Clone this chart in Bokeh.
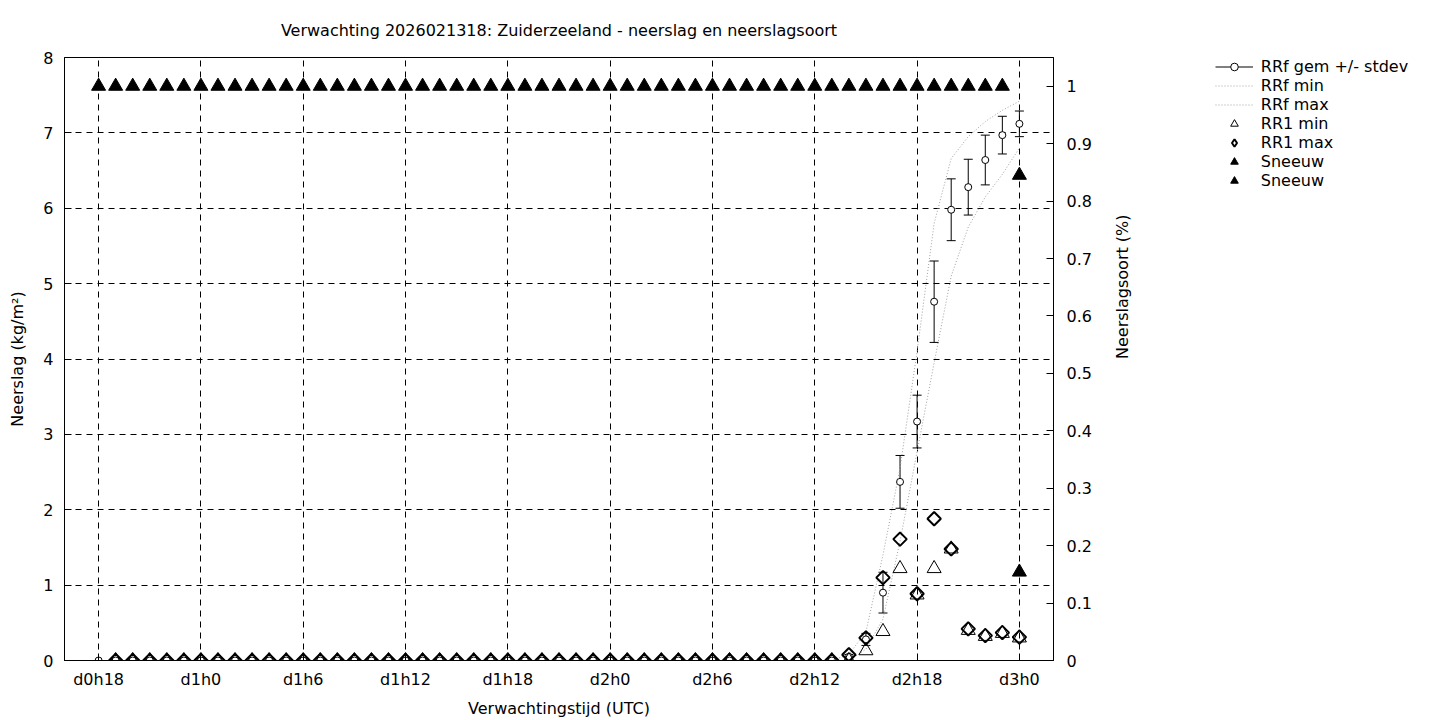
import numpy as np
from bokeh.plotting import figure
from bokeh.models import (Range1d, LinearAxis, FixedTicker, ColumnDataSource, Legend, LegendItem,
                          CustomJSTickFormatter)
from bokeh.embed import file_html
from bokeh.resources import INLINE

# ---------------- data ----------------
hours = list(range(18, 73))  # forecast hour (d0h18 .. d3h0)
rrf_mean = [0.0] * 44 + [0.05, 0.28, 0.90, 2.37, 3.17, 4.76, 5.98, 6.28, 6.64, 6.97, 7.12]
rrf_std = [0.0] * 44 + [0.03, 0.08, 0.27, 0.35, 0.35, 0.54, 0.41, 0.37, 0.33, 0.25, 0.17]
rrf_min = [0.0] * 44 + [0.00, 0.15, 0.55, 1.58, 2.77, 3.95, 5.10, 5.75, 6.15, 6.45, 6.80]
rrf_max = [0.0] * 44 + [0.08, 0.38, 1.40, 2.55, 4.10, 5.80, 6.66, 6.95, 7.15, 7.30, 7.42]

rr1_hours = list(range(19, 73))
rr1_min = [0.0] * 43 + [0.00, 0.13, 0.385, 1.22, 0.87, 1.22, 1.48, 0.40, 0.32, 0.36, 0.30]
rr1_max = [0.0] * 43 + [0.076, 0.30, 1.10, 1.61, 0.885, 1.88, 1.48, 0.42, 0.33, 0.37, 0.31]

sneeuw1_hours = list(range(18, 73))
sneeuw1 = [1.0] * 54 + [0.845]
sneeuw2_hours = [72]
sneeuw2 = [0.154]

x_ticks = [18, 24, 30, 36, 42, 48, 54, 60, 66, 72]
x_tick_labels = ["d0h18", "d1h0", "d1h6", "d1h12", "d1h18", "d2h0", "d2h6", "d2h12", "d2h18", "d3h0"]
y_ticks = [0, 1, 2, 3, 4, 5, 6, 7, 8]
y2_ticks = [0, 0.1, 0.2, 0.3, 0.4, 0.5, 0.6, 0.7, 0.8, 0.9, 1.0]

title = "Verwachting 2026021318: Zuiderzeeland - neerslag en neerslagsoort"

FONT = "DejaVu Sans"
FS = "16px"

# ---------------- figure ----------------
p = figure(frame_width=989, frame_height=603, x_range=Range1d(16, 74), y_range=Range1d(0, 8),
           output_backend="svg", toolbar_location=None,
           min_border_left=64, min_border_right=370, min_border_top=56, min_border_bottom=58,
           background_fill_color="white", border_fill_color="white")
p.extra_y_ranges = {"y2": Range1d(0, 1.05)}

p.title.text = title
p.title.text_font = FONT
p.title.text_font_size = FS
p.title.text_font_style = "normal"
p.title.text_color = "black"
p.title.align = "center"
p.title.standoff = 36

p.outline_line_color = "black"
p.outline_line_width = 1
p.outline_line_alpha = 1

# axes
xa = p.xaxis[0]
xa.ticker = FixedTicker(ticks=x_ticks)
xa.major_label_overrides = {t: l for t, l in zip(x_ticks, x_tick_labels)}
xa.axis_label = "Verwachtingstijd (UTC)"
xa.major_label_standoff = 9
xa.axis_label_standoff = 7

ya = p.yaxis[0]
ya.ticker = FixedTicker(ticks=y_ticks)
ya.axis_label = "Neerslag (kg/m²)"
ya.major_label_standoff = 11
ya.axis_label_standoff = 13

y2 = LinearAxis(y_range_name="y2", ticker=FixedTicker(ticks=y2_ticks),
                formatter=CustomJSTickFormatter(code="return String(Math.round(tick*10)/10)"),
                axis_label="Neerslagsoort (%)")
y2.major_label_standoff = 13
y2.axis_label_standoff = 28
y2.axis_label_orientation = np.pi / 2
p.add_layout(y2, "right")

for ax in [xa, ya, y2]:
    ax.major_tick_in = 7
    ax.major_tick_out = 0
    ax.minor_tick_line_color = None
    ax.major_tick_line_color = "black"
    ax.axis_line_color = "black"
    ax.major_label_text_font = FONT
    ax.major_label_text_font_size = FS
    ax.major_label_text_color = "black"
    ax.axis_label_text_font = FONT
    ax.axis_label_text_font_size = FS
    ax.axis_label_text_font_style = "normal"
    ax.axis_label_text_color = "black"

# grid
p.xgrid.ticker = FixedTicker(ticks=x_ticks)
p.ygrid.ticker = FixedTicker(ticks=y_ticks)
for g in [p.xgrid[0], p.ygrid[0]]:
    g.grid_line_color = "black"
    g.grid_line_dash = "6 5"
    g.grid_line_width = 1
    g.grid_line_alpha = 1

# ---------------- glyphs ----------------
mean = np.array(rrf_mean)
std = np.array(rrf_std)
src_f = ColumnDataSource(dict(x=hours, mean=mean, lo=mean - std, hi=mean + std,
                              fmin=rrf_min, fmax=rrf_max))

r_err = p.segment(x0="x", y0="lo", x1="x", y1="hi", source=src_f, line_color="black", line_width=1)
p.scatter(x="x", y="lo", source=src_f, marker="dash", size=9, line_color="black", line_width=1)
p.scatter(x="x", y="hi", source=src_f, marker="dash", size=9, line_color="black", line_width=1)
r_mean = p.scatter(x="x", y="mean", source=src_f, marker="circle", size=7,
                   line_color="black", line_width=1, fill_color="white")

r_min = p.line(x="x", y="fmin", source=src_f, line_color="#a0a0a0", line_width=1, line_dash="1 2")
r_max = p.line(x="x", y="fmax", source=src_f, line_color="#a0a0a0", line_width=1, line_dash="1 2")

src_r = ColumnDataSource(dict(x=rr1_hours, rmin=rr1_min, rmax=rr1_max))
r_rmin = p.scatter(x="x", y="rmin", source=src_r, marker="triangle", size=14,
                   line_color="black", line_width=1, fill_color=None)
r_rmax = p.scatter(x="x", y="rmax", source=src_r, marker="square", angle=np.pi / 4, size=9.5,
                   line_color="black", line_width=2, fill_color=None)
# legend key only (NaN point is never drawn) so that the legend shows a diamond shape
r_rmax_key = p.scatter(x=[np.nan], y=[np.nan], marker="diamond", line_color="black",
                       line_width=2, fill_color=None)

src_s1 = ColumnDataSource(dict(x=sneeuw1_hours, y=sneeuw1))
src_s2 = ColumnDataSource(dict(x=sneeuw2_hours, y=sneeuw2))
r_s1 = p.scatter(x="x", y="y", source=src_s1, y_range_name="y2", marker="triangle", size=14,
                 line_color="black", fill_color="black")
r_s2 = p.scatter(x="x", y="y", source=src_s2, y_range_name="y2", marker="triangle", size=14,
                 line_color="black", fill_color="black")

legend = Legend(items=[
    LegendItem(label="RRf gem +/- stdev", renderers=[r_err, r_mean]),
    LegendItem(label="RRf min", renderers=[r_min]),
    LegendItem(label="RRf max", renderers=[r_max]),
    LegendItem(label="RR1 min", renderers=[r_rmin]),
    LegendItem(label="RR1 max", renderers=[r_rmax_key]),
    LegendItem(label="Sneeuw", renderers=[r_s1]),
    LegendItem(label="Sneeuw", renderers=[r_s2]),
], location=(-160, 470))
legend.label_text_font = FONT
legend.label_text_font_size = FS
legend.label_text_color = "black"
legend.glyph_width = 38
legend.glyph_height = 19
legend.label_height = 17
legend.spacing = 0
legend.padding = 0
legend.margin = 0
legend.border_line_color = None
legend.background_fill_alpha = 0
legend.label_standoff = 8
p.add_layout(legend, "right")

open("out.html", "w").write(file_html(p, INLINE))
